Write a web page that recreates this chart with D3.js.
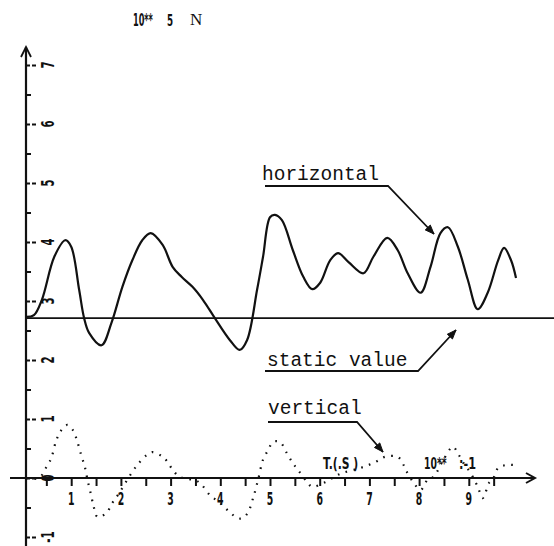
<!DOCTYPE html>
<html>
<head>
<meta charset="utf-8">
<script src="https://cdn.jsdelivr.net/npm/d3@7"></script>
<style>
  html, body { margin: 0; padding: 0; background: #fff; }
  svg { display: block; }
</style>
</head>
<body>
<svg id="chart" width="554" height="546"></svg>
<script>
// Time axis in units of 0.1 s, force in units of 10^5 N
const hTime  = [0.1, 0.25, 0.41, 0.66, 0.88, 1.0, 1.16, 1.26, 1.36, 1.61, 1.81, 2.03, 2.23, 2.43, 2.60, 2.84, 3.04, 3.22, 3.44, 3.65, 3.89, 4.19, 4.39, 4.54, 4.74, 4.86, 5.0, 5.10, 5.24, 5.46, 5.67, 5.85, 6.01, 6.21, 6.37, 6.58, 6.88, 7.08, 7.36, 7.57, 7.77, 8.03, 8.23, 8.43, 8.58, 8.78, 8.98, 9.18, 9.38, 9.59, 9.71, 9.85, 9.95];
const hForce = [2.73, 2.76, 3.02, 3.75, 4.03, 3.92, 3.19, 2.71, 2.46, 2.25, 2.63, 3.24, 3.69, 4.03, 4.15, 3.95, 3.58, 3.41, 3.24, 3.02, 2.71, 2.34, 2.17, 2.34, 3.19, 3.75, 4.42, 4.46, 4.37, 3.86, 3.41, 3.20, 3.31, 3.69, 3.81, 3.66, 3.47, 3.75, 4.07, 3.86, 3.47, 3.14, 3.58, 4.15, 4.25, 3.92, 3.36, 2.86, 3.14, 3.69, 3.90, 3.69, 3.39];

const vTime  = [0.1, 0.35, 0.49, 0.60, 0.70, 0.80, 0.92, 1.02, 1.10, 1.20, 1.28, 1.32, 1.40, 1.46, 1.53, 1.71, 1.83, 1.97, 2.15, 2.33, 2.52, 2.64, 2.84, 2.94, 3.04, 3.18, 3.38, 3.53, 3.63, 3.79, 3.99, 4.19, 4.35, 4.45, 4.56, 4.66, 4.76, 4.86, 4.96, 5.06, 5.20, 5.34, 5.46, 5.56, 5.75, 5.85, 6.11, 6.41, 6.82, 7.12, 7.32, 7.57, 7.67, 7.73, 7.89, 8.03, 8.17, 8.29, 8.49, 8.68, 8.78, 8.88, 9.04, 9.18, 9.28, 9.41, 9.48, 9.59, 9.75, 9.91];
const vForce = [0, 0, 0.17, 0.34, 0.64, 0.81, 0.90, 0.83, 0.68, 0.39, 0.17, 0, -0.29, -0.51, -0.66, -0.59, -0.42, -0.25, 0, 0.22, 0.39, 0.44, 0.36, 0.27, 0.14, 0.02, -0.02, -0.05, -0.12, -0.29, -0.42, -0.58, -0.68, -0.68, -0.58, -0.34, -0.03, 0.31, 0.47, 0.61, 0.61, 0.42, 0.25, 0.14, -0.07, -0.15, -0.07, 0.07, 0.17, 0.27, 0.36, 0.36, 0.25, 0.14, -0.08, -0.20, -0.03, 0.02, 0.31, 0.53, 0.42, 0.27, 0.08, -0.15, -0.34, -0.08, -0.03, 0.17, 0.22, 0.22];

const staticValue = 2.71;

const yTickValues = [-1, 0, 1, 2, 3, 4, 5, 6, 7];
const yTickLabels = ["-1", "0", "1", "2", "3", "4", "5", "6", "7"];
const xTickValues = [1, 2, 3, 4, 5, 6, 7, 8, 9];
const xTickLabels = ["1", "2", "3", "4", "5", "6", "7", "8", "9"];

const seriesNames = ["horizontal", "static value", "vertical"];
const forceUnit = ["10**", "5", "N"];
const timeUnit = ["T.(.S )", "10**", ":-1"];

const W = 554, H = 546;
const ink = "#111";
const blobFont = "'DejaVu Sans', sans-serif";

const svg = d3.select("#chart");

const x = d3.scaleLinear().domain([0, 10]).range([21.5, 518.5]);
const y = d3.scaleLinear().domain([0, 7]).range([478, 65]);
const axisX = 26;

// ---- vertical (force) axis ----
svg.append("line")
  .attr("x1", axisX).attr("x2", axisX).attr("y1", 47).attr("y2", H)
  .attr("stroke", ink).attr("stroke-width", 2.2);
svg.append("path")
  .attr("d", `M${axisX - 5},57 L${axisX},47 L${axisX + 5},57`)
  .attr("fill", "none").attr("stroke", ink).attr("stroke-width", 1.8);

const halfSteps = d3.range(-2, 15).map(i => i / 2).filter(v => v % 1 !== 0);

svg.append("g")
  .attr("transform", `translate(${axisX},0)`)
  .call(d3.axisRight(y).tickValues(halfSteps).tickSize(5).tickFormat(""))
  .call(g => g.select(".domain").remove())
  .call(g => g.selectAll(".tick line").attr("stroke", ink).attr("stroke-width", 2));

svg.append("g")
  .attr("transform", `translate(${axisX},0)`)
  .call(d3.axisRight(y).tickValues(yTickValues).tickSize(10).tickFormat(""))
  .call(g => g.select(".domain").remove())
  .call(g => g.selectAll(".tick line").attr("stroke", ink).attr("stroke-width", 2)
    .attr("stroke-dasharray", "4,2"));

// rotated tick numbers
svg.append("g").selectAll("text")
  .data(yTickValues)
  .join("text")
  .attr("transform", (d) => `translate(48,${y(d)}) rotate(-90) scale(0.6,1)`)
  .attr("text-anchor", "middle")
  .attr("dy", "0.36em")
  .attr("font-family", blobFont)
  .attr("font-weight", "bold")
  .attr("font-size", 17)
  .attr("fill", ink)
  .text((d, i) => yTickLabels[i]);

// ---- time axis ----
svg.append("line")
  .attr("x1", 10).attr("x2", 535).attr("y1", y(0)).attr("y2", y(0))
  .attr("stroke", ink).attr("stroke-width", 2.2);
svg.append("path")
  .attr("d", `M526,${y(0) - 5} L535,${y(0)} L526,${y(0) + 5}`)
  .attr("fill", "none").attr("stroke", ink).attr("stroke-width", 2);

svg.append("g")
  .attr("transform", `translate(0,${y(0)})`)
  .call(d3.axisBottom(x).tickValues(d3.range(1, 20).map(i => i / 2)).tickSize(8).tickFormat(""))
  .call(g => g.select(".domain").remove())
  .call(g => g.selectAll(".tick line").attr("stroke", ink).attr("stroke-width", 2));

svg.append("g").selectAll("text")
  .data(xTickValues)
  .join("text")
  .attr("transform", d => `translate(${x(d)},${y(0) + 27}) scale(0.55,1)`)
  .attr("text-anchor", "middle")
  .attr("font-family", blobFont)
  .attr("font-weight", "bold")
  .attr("font-size", 17)
  .attr("fill", ink)
  .text((d, i) => xTickLabels[i]);

// ---- static value reference ----
svg.append("line")
  .attr("x1", axisX).attr("x2", W)
  .attr("y1", y(staticValue)).attr("y2", y(staticValue))
  .attr("stroke", ink).attr("stroke-width", 1.8);

// ---- curves ----
const line = d3.line()
  .x(d => x(d[0]))
  .y(d => y(d[1]))
  .curve(d3.curveCatmullRom.alpha(0.5));

svg.append("path")
  .datum(hTime.map((t, i) => [t, hForce[i]]))
  .attr("d", line)
  .attr("fill", "none")
  .attr("stroke", ink)
  .attr("stroke-width", 2.2)
  .attr("stroke-linejoin", "round");

svg.append("path")
  .datum(vTime.map((t, i) => [t, vForce[i]]))
  .attr("d", line)
  .attr("fill", "none")
  .attr("stroke", ink)
  .attr("stroke-width", 2.2)
  .attr("stroke-dasharray", "1.6,6.5");

// ---- callouts ----
function arrowHead(tx, ty, fx, fy, len, half) {
  const a = Math.atan2(ty - fy, tx - fx);
  const bx = tx - len * Math.cos(a), by = ty - len * Math.sin(a);
  const px = -Math.sin(a) * half, py = Math.cos(a) * half;
  svg.append("path")
    .attr("d", `M${tx},${ty} L${bx + px},${by + py} L${bx - px},${by - py} Z`)
    .attr("fill", ink).attr("stroke", ink).attr("stroke-width", 1);
}

function callout(label, tx, ty, ux1, ux2, uy, pts) {
  svg.append("text")
    .attr("x", tx).attr("y", ty)
    .attr("font-family", "'Liberation Mono', monospace")
    .attr("font-size", 19.5)
    .attr("fill", ink)
    .text(label);
  const path = [[ux1, uy], [ux2, uy], pts];
  svg.append("path")
    .attr("d", d3.line()(path))
    .attr("fill", "none").attr("stroke", ink).attr("stroke-width", 1.8);
  arrowHead(pts[0], pts[1], ux2, uy, 9, 3.5);
}

callout(seriesNames[0], 262, 180, 265, 388, 186, [434, 234]);
callout(seriesNames[1], 267, 366, 265, 418, 371, [456, 330]);
callout(seriesNames[2], 268, 414, 268, 357, 422, [383, 452]);

// ---- unit labels (narrow heavy print) ----
function narrowText(label, px, py, size, sx) {
  svg.append("text")
    .attr("transform", `translate(${px},${py}) scale(${sx},1)`)
    .attr("font-family", blobFont).attr("font-weight", "bold").attr("font-size", size)
    .attr("fill", ink)
    .text(label);
}

narrowText(forceUnit[0], 133, 26, 17, 0.48);
narrowText(forceUnit[1], 167, 26, 16, 0.55);
svg.append("text")
  .attr("x", 190).attr("y", 25)
  .attr("font-family", "'Liberation Serif', serif").attr("font-size", 17)
  .attr("fill", ink)
  .text(forceUnit[2]);

narrowText(timeUnit[0], 323, 469, 15, 0.72);
narrowText(timeUnit[1], 424, 469, 15, 0.62);
narrowText(timeUnit[2], 459, 469, 15, 0.75);
</script>
</body>
</html>
